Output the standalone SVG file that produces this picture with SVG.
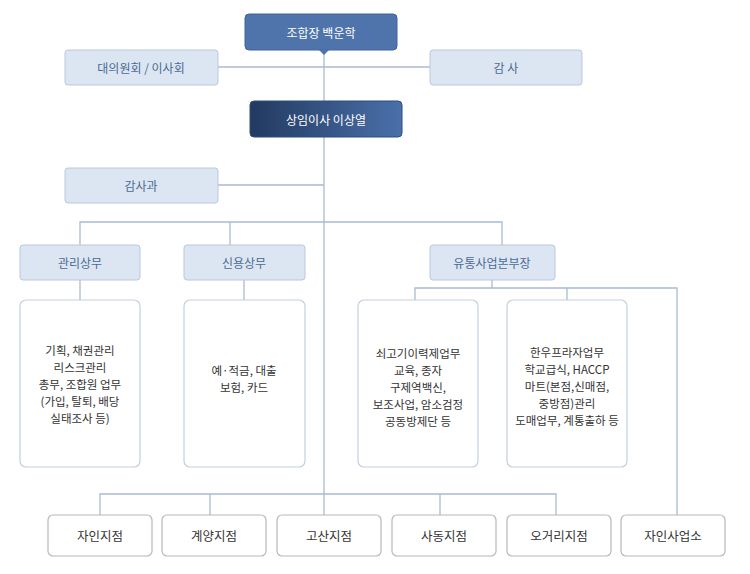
<svg xmlns="http://www.w3.org/2000/svg" width="750" height="574" viewBox="0 0 750 574">
<style>
text{font-family:"Noto Sans CJK KR","Noto Sans",sans-serif;font-size:12px;text-anchor:middle;dominant-baseline:central}
.lt rect{fill:#dce6f2;stroke:#b9c8de;stroke-width:1}
.lt text{fill:#4d6a95}
.wb rect{fill:#fff;stroke:#c5cfdc;stroke-width:1.2}
.wb text{fill:#333;font-size:11.5px}
.bt rect{fill:#fff;stroke:#b8b8b8;stroke-width:1.2}
.bt text{fill:#333;font-size:12.5px}
#conn path{fill:none;stroke:#a9bbd3;stroke-width:1.3}
</style>
<defs>
<linearGradient id="dg" x1="0" x2="1" y1="0" y2="0"><stop offset="0" stop-color="#223a60"/><stop offset="1" stop-color="#4a70aa"/></linearGradient>
</defs>
<g id="conn">
<path d="M324 50V515M140 67H430M140 185H324M80 245V222H502V245M230 222V245M415 300V288H677V515M567 288V300M80 280V300M244 280V300M492 280V288M100 515V494H556V515M210 494V515M440 494V515"/>
</g>
<g id="n1"><rect x="245" y="14" width="152" height="36" rx="4" fill="#4f74ab" stroke="#40639a"/><path d="M319 50L324 55L329 50Z" fill="#4f74ab"/><text x="321" y="32" fill="#fff">조합장 백운학</text></g>
<g id="n2" class="lt"><rect x="65" y="50" width="153" height="35" rx="3"/><text x="141" y="67">대의원회 / 이사회</text></g>
<g id="n3" class="lt"><rect x="430" y="50" width="152" height="35" rx="3"/><text x="506" y="67">감 사</text></g>
<g id="n4"><rect x="250" y="101" width="152" height="36" rx="4" fill="url(#dg)" stroke="#2f4d7c"/><text x="326" y="119" fill="#fff">상임이사 이상열</text></g>
<g id="n5" class="lt"><rect x="65" y="168" width="153" height="35" rx="3"/><text x="141" y="185">감사과</text></g>
<g id="n6" class="lt"><rect x="20" y="245" width="120" height="35" rx="3"/><text x="80" y="262">관리상무</text></g>
<g id="n7" class="lt"><rect x="184" y="245" width="121" height="35" rx="3"/><text x="244" y="262">신용상무</text></g>
<g id="n8" class="lt"><rect x="430" y="245" width="125" height="35" rx="3"/><text x="492" y="262">유통사업본부장</text></g>
<g id="n9" class="wb"><rect x="20" y="300" width="120" height="167" rx="6"/><text x="80" y="350">기획, 채권관리</text><text x="80" y="367">리스크관리</text><text x="80" y="384">총무, 조합원 업무</text><text x="80" y="401">(가입, 탈퇴, 배당</text><text x="80" y="418">실태조사 등)</text></g>
<g id="n10" class="wb"><rect x="184" y="300" width="121" height="167" rx="6"/><text x="244" y="370">예·적금, 대출</text><text x="244" y="387">보험, 카드</text></g>
<g id="n11" class="wb"><rect x="358" y="300" width="120" height="167" rx="6"/><text x="418" y="353">쇠고기이력제업무</text><text x="418" y="370">교육, 종자</text><text x="418" y="387">구제역백신,</text><text x="418" y="404">보조사업, 암소검정</text><text x="418" y="421">공동방제단 등</text></g>
<g id="n12" class="wb"><rect x="507" y="300" width="120" height="167" rx="6"/><text x="567" y="352">한우프라자업무</text><text x="567" y="369">학교급식, HACCP</text><text x="567" y="386">마트(본점,신매점,</text><text x="567" y="403">중방점)관리</text><text x="567" y="420">도매업무, 계통출하 등</text></g>
<g id="b1" class="bt"><rect x="48" y="515" width="104" height="41" rx="5"/><text x="100" y="535">자인지점</text></g>
<g id="b2" class="bt"><rect x="162" y="515" width="104" height="41" rx="5"/><text x="214" y="535">계양지점</text></g>
<g id="b3" class="bt"><rect x="277" y="515" width="104" height="41" rx="5"/><text x="329" y="535">고산지점</text></g>
<g id="b4" class="bt"><rect x="392" y="515" width="104" height="41" rx="5"/><text x="444" y="535">사동지점</text></g>
<g id="b5" class="bt"><rect x="507" y="515" width="104" height="41" rx="5"/><text x="559" y="535">오거리지점</text></g>
<g id="b6" class="bt"><rect x="621" y="515" width="104" height="41" rx="5"/><text x="673" y="535">자인사업소</text></g>
</svg>
